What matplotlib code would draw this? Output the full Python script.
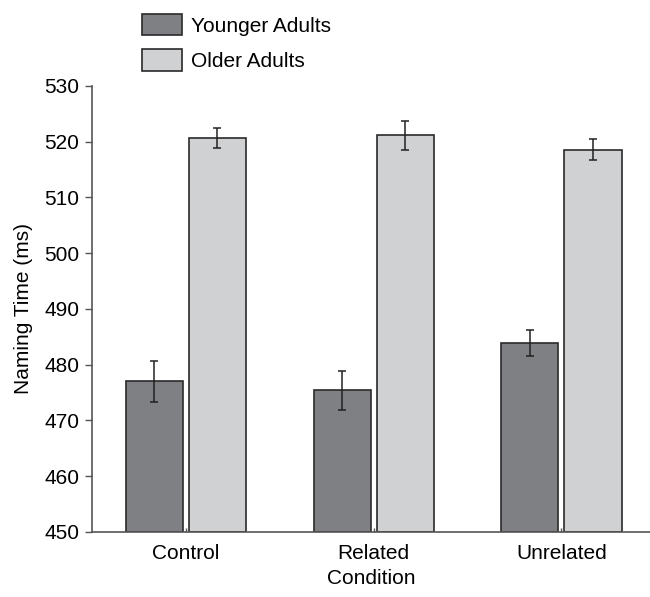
import numpy as np
import matplotlib.pyplot as plt

plt.rcParams['font.family'] = ['Liberation Sans', 'DejaVu Sans']

# data
conditions = ['Control', 'Related', 'Unrelated']
younger = [477.0, 475.4, 483.9]
younger_err = [3.7, 3.5, 2.4]
older = [520.6, 521.2, 518.6]
older_err = [1.8, 2.6, 1.8]

fig = plt.figure(figsize=(6.5, 5.97), dpi=100)
ax = fig.add_axes([0.1415, 0.109, 0.858, 0.747])

x = np.arange(len(conditions))
w = 0.304
off = 0.168
err_kw = dict(ecolor='#222222', elinewidth=1.1, capsize=3, capthick=1.1)
ax.bar(x - off, np.array(younger) - 450, w, bottom=450, color='#7f8084', edgecolor='#2a2a2a',
       linewidth=1.2, yerr=younger_err, error_kw=err_kw, label='Younger Adults')
ax.bar(x + off, np.array(older) - 450, w, bottom=450, color='#d0d1d3', edgecolor='#2a2a2a',
       linewidth=1.2, yerr=older_err, error_kw=err_kw, label='Older Adults')

ax.set_xlim(-0.5, 2.47)
ax.set_ylim(450, 530)
ax.set_yticks(np.arange(450, 531, 10))
ax.set_xticks(x)
ax.set_xticklabels(conditions)
ax.tick_params(axis='y', direction='out', length=5, width=1, color='#555555', labelsize=15, pad=4)
ax.tick_params(axis='x', direction='in', length=3, width=1, color='#555555', labelsize=15, pad=9)
for s in ['top', 'right']:
    ax.spines[s].set_visible(False)
for s in ['left', 'bottom']:
    ax.spines[s].set_color('#555555')
    ax.spines[s].set_linewidth(1.2)

ax.set_ylabel('Naming Time (ms)', fontsize=15, labelpad=8)
ax.set_xlabel('Condition', fontsize=15, labelpad=4)

fig.legend(loc='upper left', bbox_to_anchor=(0.19, 1.008), frameon=False, fontsize=15,
           handlelength=1.9, handleheight=1.2, labelspacing=0.65, handletextpad=0.45)

fig.savefig('out.png', dpi=100)
